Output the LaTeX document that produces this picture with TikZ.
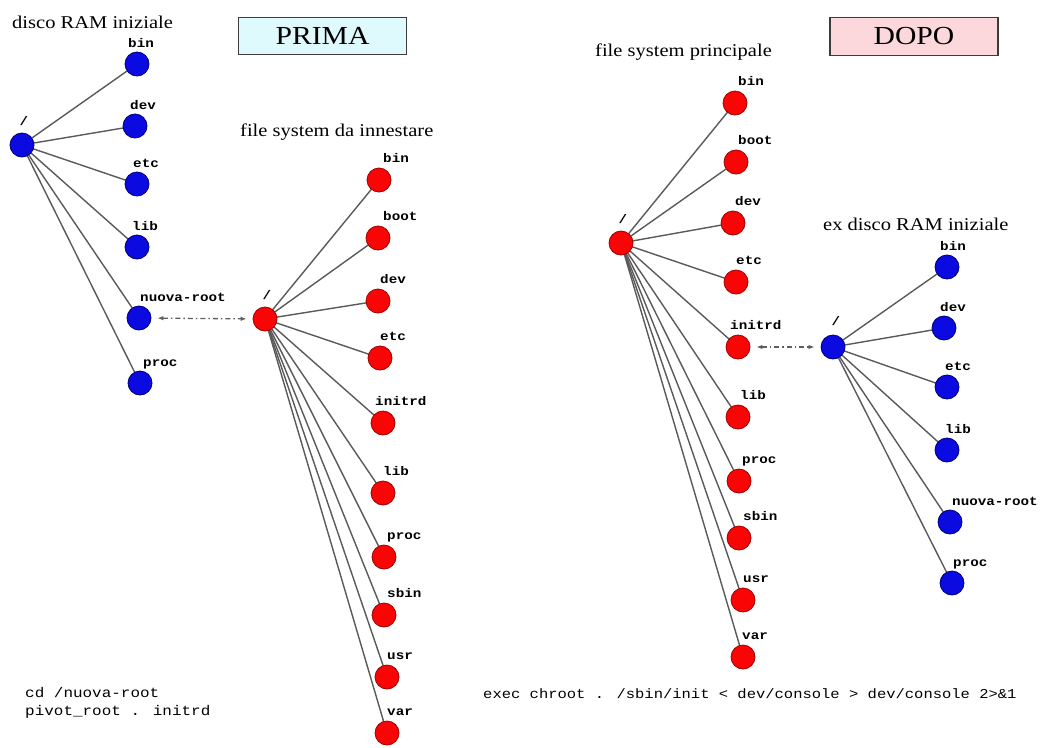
\documentclass[tikz,border=0pt]{standalone}
\usepackage{fontspec}
\setmainfont{Liberation Serif}[FakeStretch=1.14]
\newfontfamily\lblfont{Liberation Mono}[FakeStretch=1.14]
\usetikzlibrary{arrows.meta,backgrounds}
\definecolor{nodeblue}{RGB}{10,10,225}
\definecolor{nodeblueborder}{RGB}{0,0,120}
\definecolor{nodered}{RGB}{250,5,5}
\definecolor{noderedborder}{RGB}{160,0,0}
\definecolor{edgegray}{RGB}{90,90,90}
\definecolor{linkgray}{RGB}{95,95,95}
\definecolor{cyanfill}{RGB}{222,250,252}
\definecolor{pinkfill}{RGB}{252,216,221}
\definecolor{boxborder}{RGB}{60,60,60}
\begin{document}
\begin{tikzpicture}[x=1pt,y=-1pt,
  bnode/.style={circle,fill=nodeblue,draw=nodeblueborder,line width=0.8pt,minimum size=24pt,inner sep=0pt},
  rnode/.style={circle,fill=nodered,draw=noderedborder,line width=0.8pt,minimum size=24pt,inner sep=0pt},
  edge/.style={draw=edgegray,line width=1.4pt},
  lbl/.style={font=\lblfont\bfseries\fontsize{12.5}{13}\selectfont,anchor=base west,inner sep=0pt},
  ttl/.style={font=\fontsize{18}{20}\selectfont,anchor=base west,inner sep=0pt},
  cmd/.style={font=\lblfont\fontsize{14}{16}\selectfont,anchor=base west,inner sep=0pt},
  hdr/.style={draw=boxborder,line width=1.3pt,inner sep=0pt,font=\fontsize{26}{28}\selectfont},
  link/.style={draw=linkgray,line width=1.3pt,dash pattern=on 5pt off 3pt on 1.5pt off 3pt,
    {Latex[length=6pt,width=4.5pt,open]}-{Latex[length=6pt,width=4.5pt,open]},
    shorten <=6pt,shorten >=6pt}]
\useasboundingbox (0,0) rectangle (1044,747);

% titles and headers
\node[ttl] (t1) at (12,28) {disco RAM iniziale};
\node[ttl] (t2) at (240,136) {file system da innestare};
\node[ttl] (t3) at (595,56) {file system principale};
\node[ttl] (t4) at (823,230) {ex disco RAM iniziale};
\node[hdr,fill=cyanfill,minimum width=168pt,minimum height=37pt] (prima) at (322.5,36) {PRIMA};
\node[hdr,fill=pinkfill,minimum width=168pt,minimum height=38pt] (dopo) at (914,36.5) {DOPO};

% left blue tree
\node[bnode] (a0) at (22,145) {};
\node[lbl,anchor=center] (a0l) at (24,121) {/};
\foreach \nm/\px/\py/\txt/\dx in {a1/137/64/bin/-9, a2/135/126/dev/-5, a3/137/184/etc/-4,
    a4/137/247/lib/-5, a5/139/318/nuova-root/1, a6/140/383/proc/3}{
  \node[bnode] (\nm) at (\px,\py) {};
  \node[lbl] (\nm l) at (\px+\dx,\py-17) {\txt};
}

% middle red tree
\node[rnode] (b0) at (265,319) {};
\node[lbl,anchor=center] (b0l) at (267,295) {/};
\foreach \nm/\px/\py/\txt/\dx in {b1/379/180/bin/4, b2/378/238/boot/5, b3/378/301/dev/2,
    b4/380/358/etc/0, b5/383/423/initrd/-8, b6/383/493/lib/0, b7/384/557/proc/3,
    b8/384/615/sbin/3, b9/387/677/usr/0, b10/387/733/var/0}{
  \node[rnode] (\nm) at (\px,\py) {};
  \node[lbl] (\nm l) at (\px+\dx,\py-18) {\txt};
}

% right red tree
\node[rnode] (c0) at (621,243) {};
\node[lbl,anchor=center] (c0l) at (623,219) {/};
\foreach \nm/\px/\py/\txt/\dx in {c1/735/103/bin/3, c2/736/162/boot/2, c3/733/223/dev/2,
    c4/736/282/etc/0, c5/738/347/initrd/-8, c6/738/417/lib/2, c7/739/481/proc/3,
    c8/739/538/sbin/4, c9/743/600/usr/0, c10/743/657/var/-1}{
  \node[rnode] (\nm) at (\px,\py) {};
  \node[lbl] (\nm l) at (\px+\dx,\py-18) {\txt};
}

% right blue tree
\node[bnode] (d0) at (833,347) {};
\node[lbl,anchor=center] (d0l) at (836,321) {/};
\foreach \nm/\px/\py/\txt/\dx in {d1/947/267/bin/-7, d2/944/328/dev/-4, d3/947/387/etc/-2,
    d4/947/450/lib/-2, d5/950/522/nuova-root/2, d6/952/583/proc/1}{
  \node[bnode] (\nm) at (\px,\py) {};
  \node[lbl] (\nm l) at (\px+\dx,\py-17) {\txt};
}

% edges
\begin{scope}[on background layer]
  \fill[white] (0,0) rectangle (1044,747);
  \foreach \c in {a1,a2,a3,a4,a5,a6} \draw[edge] (a0.center) -- (\c.center);
  \foreach \c in {b1,b2,b3,b4,b5,b6,b7,b8,b9,b10} \draw[edge] (b0.center) -- (\c.center);
  \foreach \c in {c1,c2,c3,c4,c5,c6,c7,c8,c9,c10} \draw[edge] (c0.center) -- (\c.center);
  \foreach \c in {d1,d2,d3,d4,d5,d6} \draw[edge] (d0.center) -- (\c.center);
\end{scope}

% links
\draw[link] (a5) -- (b0);
\draw[link] (c5) -- (d0);

% commands
\node[cmd] (cm1) at (25,697) {cd /nuova-root};
\node[cmd] (cm2) at (25,715) {pivot\_root . initrd};
\node[cmd,font=\lblfont\fontsize{13.6}{16}\selectfont] (cm3) at (483,698) {exec chroot . /sbin/init < dev/console > dev/console 2>\&1};
\end{tikzpicture}
\end{document}
